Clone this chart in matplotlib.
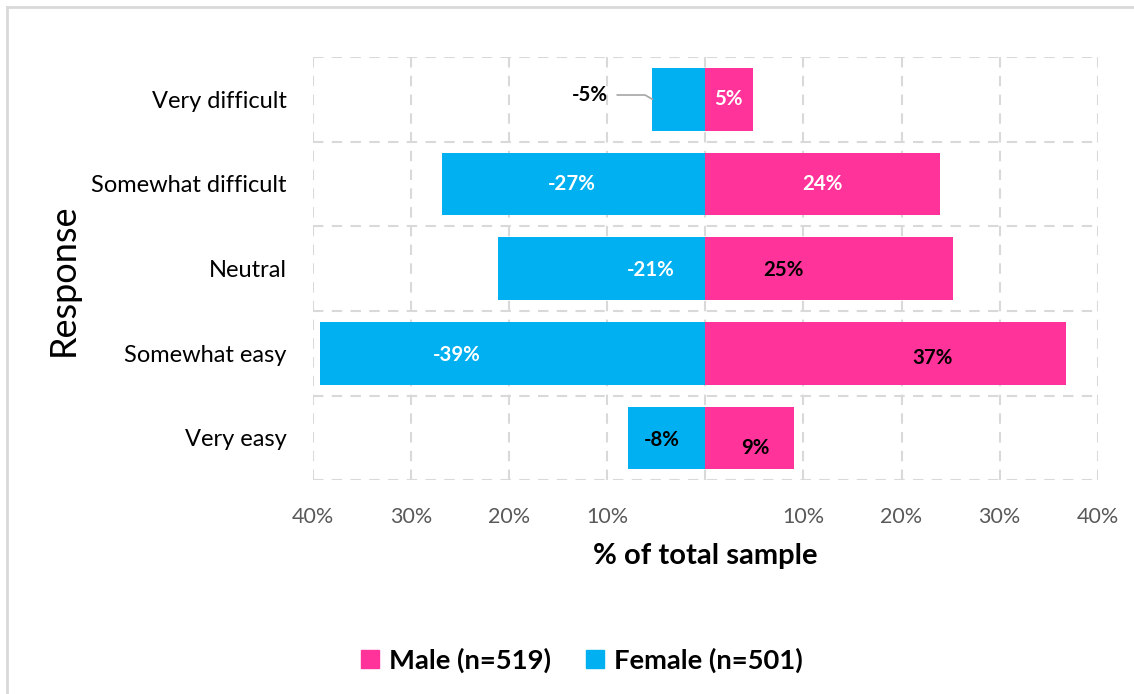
"""
Diverging bar chart: response by gender, % of total sample.
"""

import matplotlib

matplotlib.use('Agg')
import matplotlib.pyplot as plt
from matplotlib.lines import Line2D
from matplotlib.patches import Patch
import numpy as np

categories = ["Very difficult", "Somewhat difficult", "Neutral", "Somewhat easy", "Very easy"]
female_pct = [5.4, 26.8, 21.1, 39.3, 7.9]
male_pct = [4.9, 23.9, 25.2, 36.8, 9.0]
tick_values = [-40, -30, -20, -10, 0, 10, 20, 30, 40]

# label placement (data units) and colours, as in the original
female_label_x = [-11.8, -13.6, -5.6, -25.3, -4.4]
female_label_dy = [-0.05, 0.0, 0.02, 0.02, 0.03]
female_label_color = ["black", "white", "white", "white", "black"]
male_label_x = [2.3, 11.9, 8.0, 23.2, 5.1]
male_label_dy = [0.0, 0.0, 0.02, 0.06, 0.12]
male_label_color = ["white", "white", "black", "black", "black"]

PINK = "#FF3399"
BLUE = "#00B0F0"
GRID = "#d9d9d9"

plt.rcParams["font.family"] = ["Lato", "DejaVu Sans"]

fig = plt.figure(figsize=(11.34, 6.94), dpi=100)
ax = fig.add_axes([0.276, 0.308, 0.692, 0.610])

y = np.arange(len(categories))
height = 0.74

ax.barh(y, -np.array(female_pct), height, color=BLUE, zorder=3)
ax.barh(y, male_pct, height, color=PINK, zorder=3)

ax.set_xlim(-40, 40)
ax.set_ylim(len(categories) - 0.5, -0.5)

ax.set_xticks(tick_values)
ax.set_xticklabels(["" if v == 0 else f"{abs(v)}%" for v in tick_values])
ax.set_yticks(y)
ax.set_yticklabels(categories)
ax.set_yticks(np.arange(-0.5, len(categories)), minor=True)

ax.tick_params(axis="x", length=0, pad=19, labelsize=15.5, labelcolor="#595959")
ax.tick_params(axis="y", which="major", length=0, pad=19, labelsize=17, labelcolor="black")
ax.tick_params(axis="y", which="minor", length=0)

ax.grid(axis="x", which="major", color=GRID, linestyle=(0, (5, 4)), linewidth=1.5, zorder=0)
ax.grid(axis="y", which="minor", color=GRID, linestyle=(0, (5, 4)), linewidth=1.5, zorder=0)
ax.grid(axis="y", which="major", visible=False)
for s in ax.spines.values():
    s.set_visible(False)

ax.set_xlabel("% of total sample", fontsize=21, fontweight="bold")
ax.xaxis.set_label_coords(0.5, -0.149)
ax.set_ylabel("Response", fontsize=26)
ax.yaxis.set_label_coords(-0.297, 0.473)

for i in range(len(categories)):
    ax.text(female_label_x[i], i + female_label_dy[i],
            f"{-round(female_pct[i])}%", ha="center", va="center",
            fontsize=14.7, fontweight="bold", color=female_label_color[i], zorder=4)
    ax.text(male_label_x[i], i + male_label_dy[i], f"{round(male_pct[i])}%",
            ha="center", va="center", fontsize=14.7, fontweight="bold",
            color=male_label_color[i], zorder=4)

# leader line for the small -5% label
ax.annotate("", xy=(-female_pct[0], 0.0), xytext=(-9.0, -0.05),
            arrowprops=dict(arrowstyle="-", color="#a6a6a6", linewidth=1.2,
                            connectionstyle="angle,angleA=0,angleB=-30,rad=0",
                            shrinkA=0, shrinkB=0),
            zorder=4)

handles = [Patch(color=PINK, label="Male (n=519)"), Patch(color=BLUE, label="Female (n=501)")]
fig.legend(handles=handles, loc="center", bbox_to_anchor=(0.513, 0.049), ncol=2,
           frameon=False, handlelength=0.65, handleheight=0.65, handletextpad=0.35,
           columnspacing=1.3, prop={"size": 19.7, "weight": "bold"})

# chart border (top and left edges visible)
bx, by = 7 / 1134, 1 - 7 / 694
fig.add_artist(Line2D([bx, 1], [by, by], color=GRID, linewidth=2, transform=fig.transFigure))
fig.add_artist(Line2D([bx, bx], [0, by], color=GRID, linewidth=2, transform=fig.transFigure))

plt.savefig("out.png", dpi=100)
plt.close(fig)
